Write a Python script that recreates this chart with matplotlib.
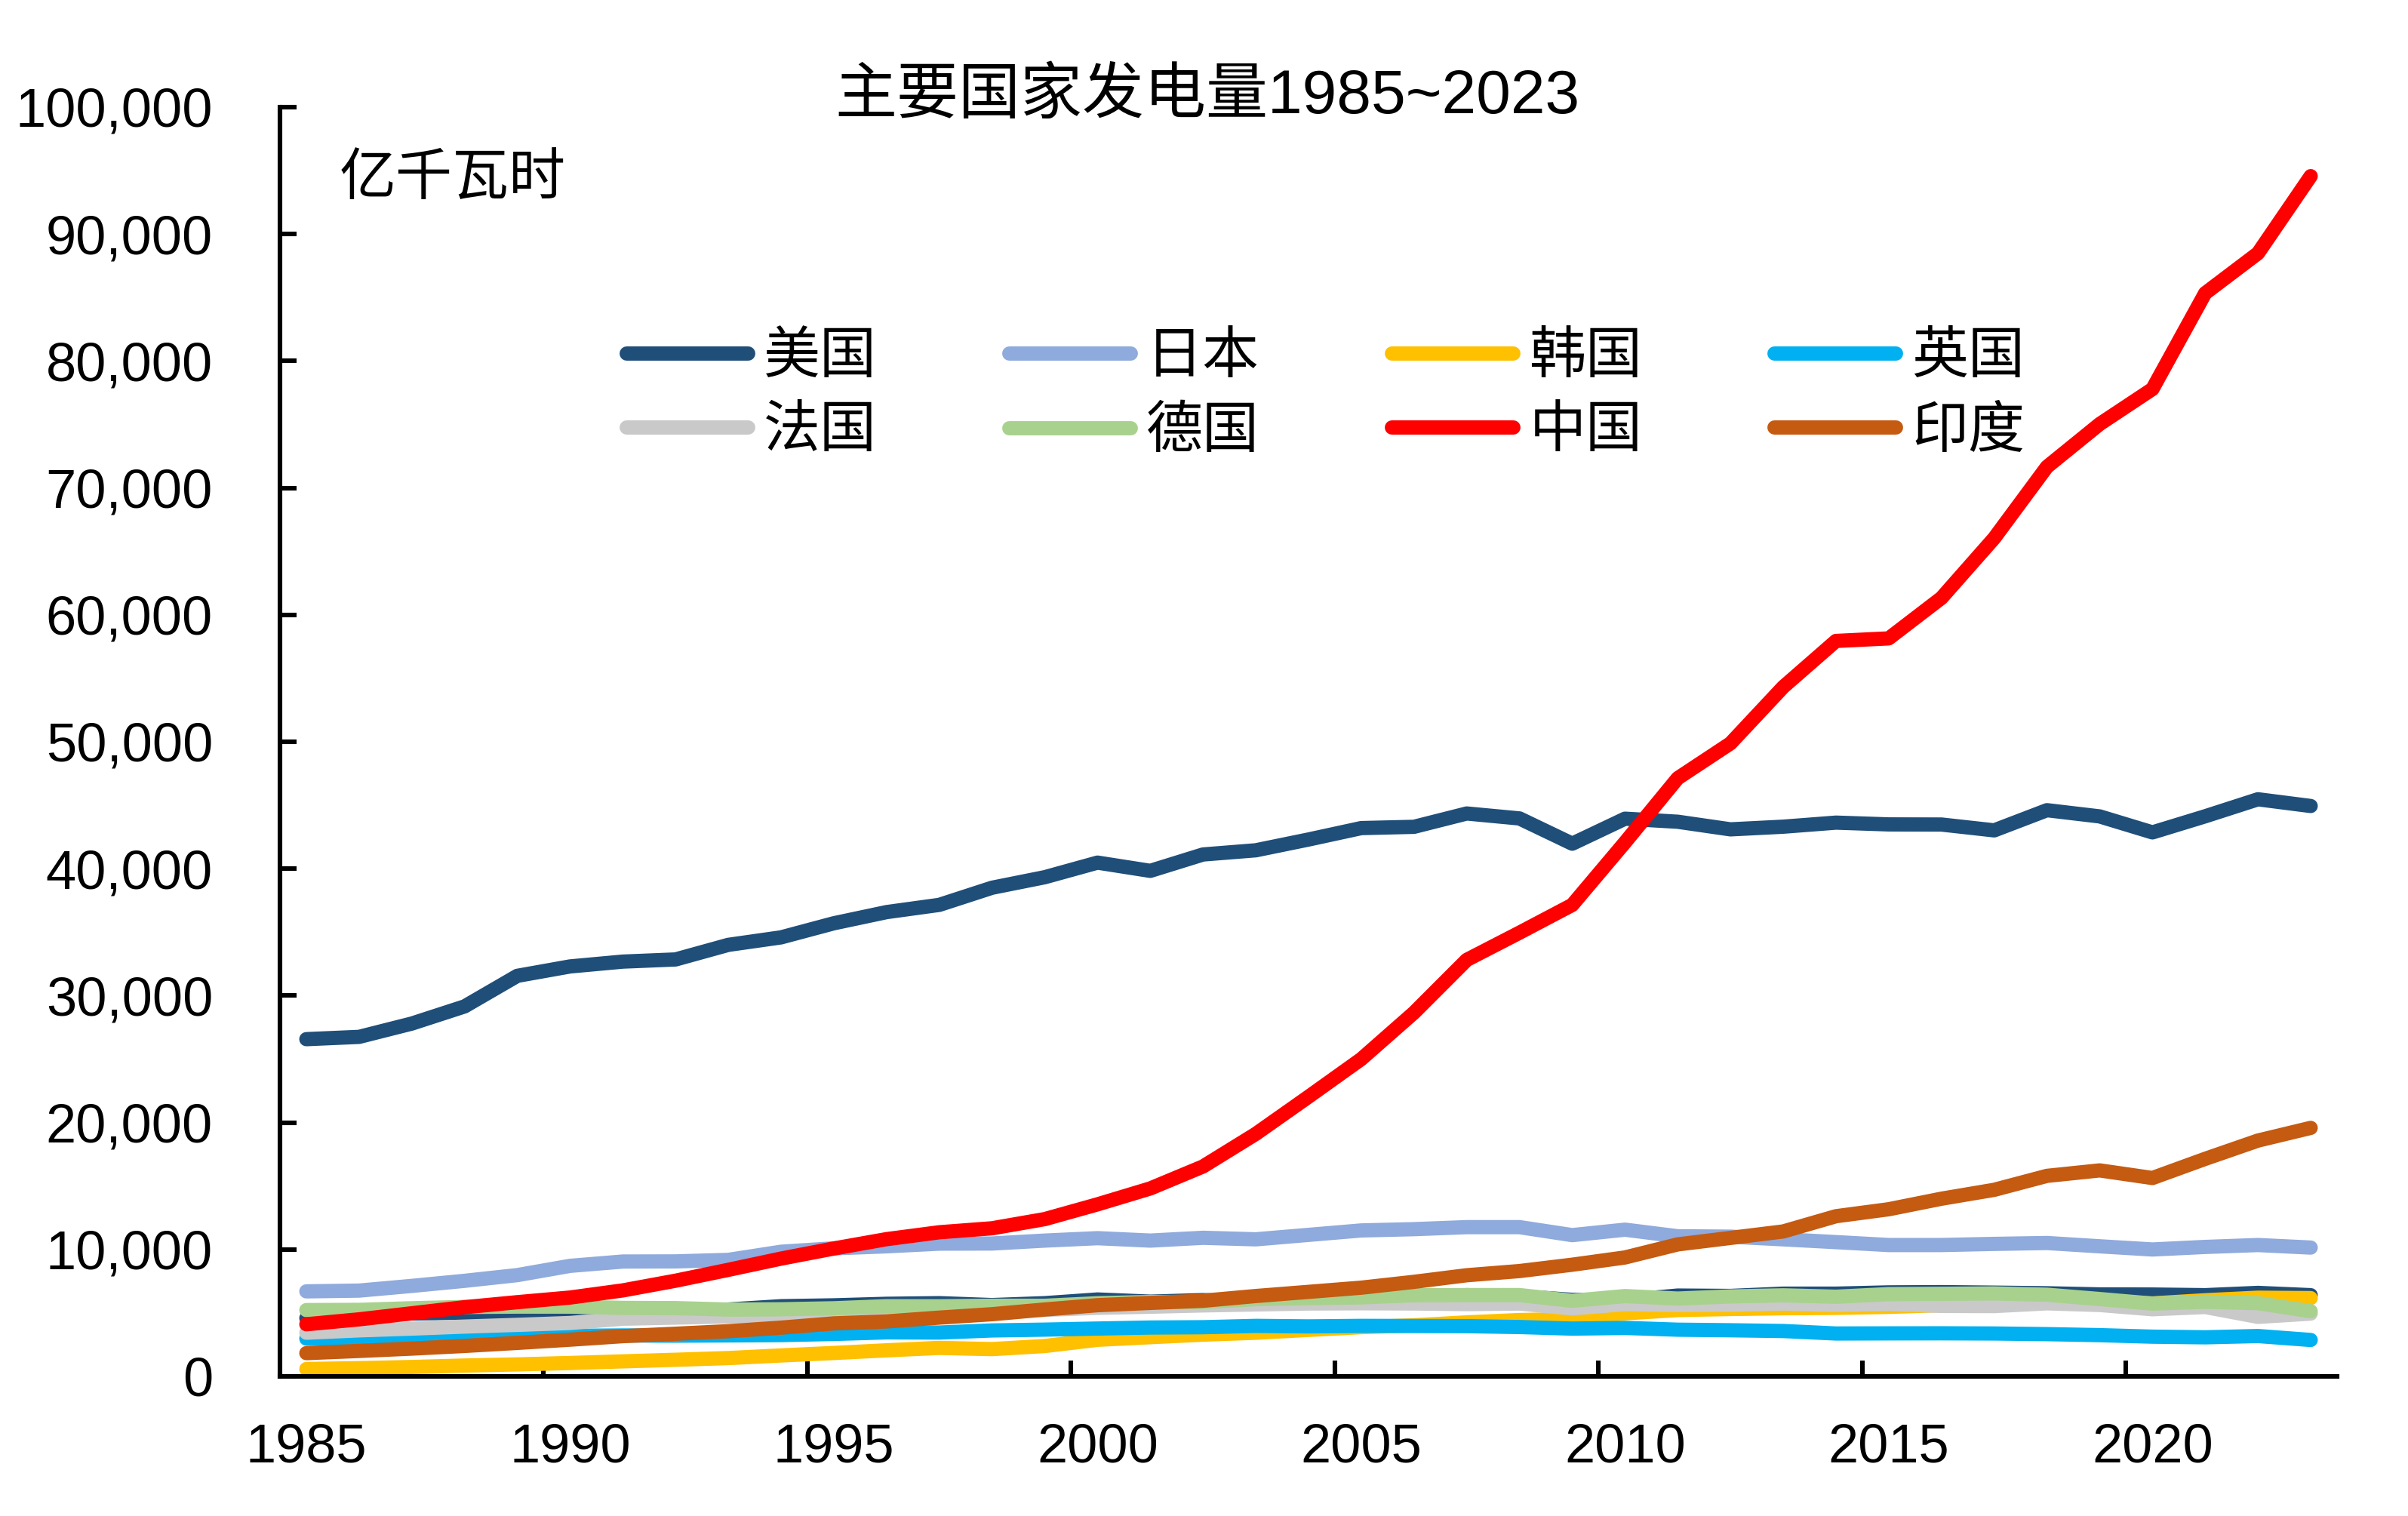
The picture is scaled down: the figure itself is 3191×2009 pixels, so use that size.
import numpy as np
import matplotlib
matplotlib.use("Agg")
import matplotlib.pyplot as plt
from matplotlib.ticker import FuncFormatter

plt.rcParams['font.family'] = ['Liberation Sans', 'Noto Sans CJK SC', 'DejaVu Sans']

years = list(range(1985, 2024))

us = [26570, 26750, 27800, 29150, 31560, 32300, 32680, 32850, 34000, 34590,
      35700, 36580, 37150, 38500, 39330, 40480, 39830, 41120, 41450, 42300,
      43200, 43300, 44350, 43960, 41970, 43940, 43700, 43100, 43310, 43630,
      43490, 43480, 43020, 44610, 44120, 42860, 44130, 45470, 44940]
unlabeled_navy = [4590, 4830, 4960, 5020, 4980, 4820, 4980, 5070, 5270, 5530,
                  5600, 5720, 5770, 5620, 5770, 6060, 5890, 6010, 5890, 5990,
                  6260, 6120, 6400, 6320, 6030, 6000, 6370, 6340, 6520, 6520,
                  6620, 6640, 6600, 6550, 6460, 6450, 6400, 6580, 6400]
japan = [6700, 6760, 7130, 7530, 7980, 8710, 9050, 9060, 9180, 9820,
         10090, 10250, 10460, 10470, 10700, 10890, 10700, 10920, 10800, 11150,
         11500, 11600, 11760, 11760, 11130, 11560, 11040, 11010, 10800, 10580,
         10350, 10350, 10440, 10510, 10250, 10000, 10200, 10350, 10150]
korea = [580, 650, 740, 855, 945, 1055, 1185, 1310, 1445, 1650,
         1845, 2055, 2245, 2150, 2395, 2885, 3090, 3290, 3440, 3665,
         3880, 4025, 4255, 4440, 4515, 4970, 5230, 5310, 5370, 5400,
         5480, 5610, 5765, 5940, 5850, 5750, 6000, 6200, 6170]
uk = [2980, 3010, 3035, 3075, 3135, 3195, 3225, 3210, 3230, 3255,
      3345, 3470, 3455, 3620, 3685, 3770, 3850, 3875, 3980, 3940,
      3980, 3970, 3960, 3890, 3765, 3820, 3680, 3635, 3575, 3380,
      3390, 3395, 3380, 3330, 3250, 3130, 3080, 3180, 2870]
france = [3443, 3628, 3766, 3926, 4061, 4207, 4547, 4634, 4723, 4776,
          4937, 5116, 5045, 5108, 5242, 5404, 5492, 5592, 5669, 5743,
          5762, 5745, 5697, 5740, 5359, 5693, 5629, 5645, 5739, 5629,
          5707, 5553, 5541, 5756, 5627, 5291, 5468, 4691, 4948]
germany = [5225, 5240, 5370, 5470, 5500, 5499, 5396, 5381, 5264, 5288,
           5367, 5530, 5525, 5567, 5563, 5765, 5863, 5867, 6088, 6168,
           6226, 6396, 6406, 6407, 5956, 6329, 6131, 6301, 6387, 6278,
           6481, 6506, 6537, 6435, 6094, 5736, 5880, 5770, 5137]
china = [4107, 4495, 4973, 5452, 5847, 6212, 6775, 7539, 8395, 9281,
         10077, 10813, 11356, 11670, 12393, 13556, 14808, 16540, 19106, 22033,
         25003, 28657, 32816, 34958, 37147, 42072, 47130, 49876, 54316, 57945,
         58146, 61332, 66044, 71661, 75034, 77791, 85342, 88487, 94564]
india = [1834, 2005, 2190, 2400, 2640, 2894, 3170, 3360, 3560, 3840,
         4176, 4330, 4630, 4900, 5270, 5611, 5790, 5960, 6333, 6660,
         6990, 7450, 7970, 8300, 8800, 9370, 10400, 10910, 11420, 12620,
         13170, 14000, 14700, 15800, 16230, 15630, 17140, 18580, 19580]

series_names = ['美国', None, '日本', '韩国', '英国', '法国', '德国', '中国', '印度']
series_values = [us, unlabeled_navy, japan, korea, uk, france, germany, china, india]
series_colors = ['#1F4E79', '#1F4E79', '#8FAADC', '#FFC000', '#00B0F0',
                 '#C9C9C9', '#A9D18E', '#FF0000', '#C55A11']

title_text = '主要国家发电量1985~2023'
unit_text = '亿千瓦时'
xlabel_years = [1985, 1990, 1995, 2000, 2005, 2010, 2015, 2020]
yticks = list(range(0, 100001, 10000))

W, H = 3191, 2009
fig = plt.figure(figsize=(W / 200, H / 200), dpi=200)
ax = fig.add_axes([371 / W, 1 - 1824 / H, (3097 - 371) / W, (1824 - 142) / H])

lw = 6.8
handles = {}
for name, vals, col in zip(series_names, series_values, series_colors):
    ln, = ax.plot(years, vals, color=col, lw=lw, solid_capstyle='round',
                  solid_joinstyle='round',
                  label=name if name else '_nolegend_')
    if name:
        handles[name] = ln

ax.set_xlim(1984.5, 2023.5)
ax.set_ylim(0, 100000)

for s in ['top', 'right']:
    ax.spines[s].set_visible(False)
for s in ['left', 'bottom']:
    ax.spines[s].set_linewidth(2.2)
    ax.spines[s].set_color('black')

ax.set_yticks(yticks)
ax.yaxis.set_major_formatter(FuncFormatter(lambda v, p: f'{int(v):,}'))
ax.tick_params(axis='y', direction='in', length=7.8, width=2.2, pad=32,
               labelsize=26)

ax.set_xticks(np.arange(1989.5, 2023, 5))
ax.set_xticklabels([])
ax.set_xticks(xlabel_years, minor=True)
ax.set_xticklabels([str(y) for y in xlabel_years], minor=True)
ax.tick_params(axis='x', which='major', direction='in', length=7.5, width=2.2)
ax.tick_params(axis='x', which='minor', length=0, pad=22, labelsize=26)

fig.text(0.5014, 0.936, title_text, ha='center', va='center', fontsize=29.5)
fig.text(450 / W, 1 - 238 / H, unit_text, ha='left', va='center', fontsize=27)

order = ['美国', '法国', '日本', '德国', '韩国', '中国', '英国', '印度']
leg = fig.legend([handles[n] for n in order], order, ncol=4, frameon=False,
                 loc='center left', bbox_to_anchor=(830 / W, 1 - 524 / H),
                 fontsize=27, handlelength=2.15, handletextpad=0.28,
                 columnspacing=2.33, labelspacing=0.39, borderpad=0,
                 borderaxespad=0)

fig.savefig('out.png', dpi=200)
